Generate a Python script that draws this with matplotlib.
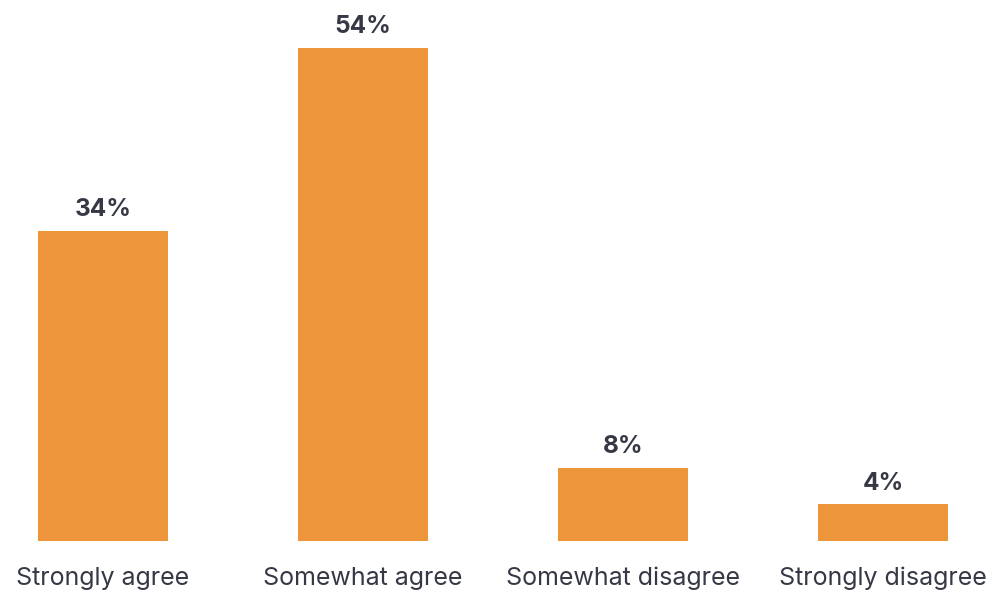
import matplotlib.pyplot as plt

categories = ['Strongly agree', 'Somewhat agree', 'Somewhat disagree', 'Strongly disagree']
values = [34, 54, 8, 4]

bar_color = '#EC953A'
text_color = '#363945'

plt.rcParams['font.family'] = ['Inter', 'DejaVu Sans']

fig = plt.figure(figsize=(9.94, 5.91), dpi=100)
ax = fig.add_axes([0, 50 / 591, 1, 541 / 591])

x = range(len(categories))
bars = ax.bar(x, values, width=0.5, color=bar_color)

# percentage labels above each bar
for rect, v in zip(bars, values):
    ax.annotate(f'{v}%', (rect.get_x() + rect.get_width() / 2, v),
                xytext=(0, 7), textcoords='offset points',
                ha='center', va='bottom', fontsize=17.5, fontweight='bold',
                color=text_color, annotation_clip=False)

ax.set_xlim(-0.396, 3.427)
ax.set_ylim(0, 541 / 9.13)
ax.set_xticks(list(x))
ax.set_xticklabels(categories, fontsize=18, color=text_color)
ax.tick_params(axis='x', length=0, pad=18.5)
ax.set_yticks([])
for s in ax.spines.values():
    s.set_visible(False)

fig.savefig('out.png', dpi=100)
